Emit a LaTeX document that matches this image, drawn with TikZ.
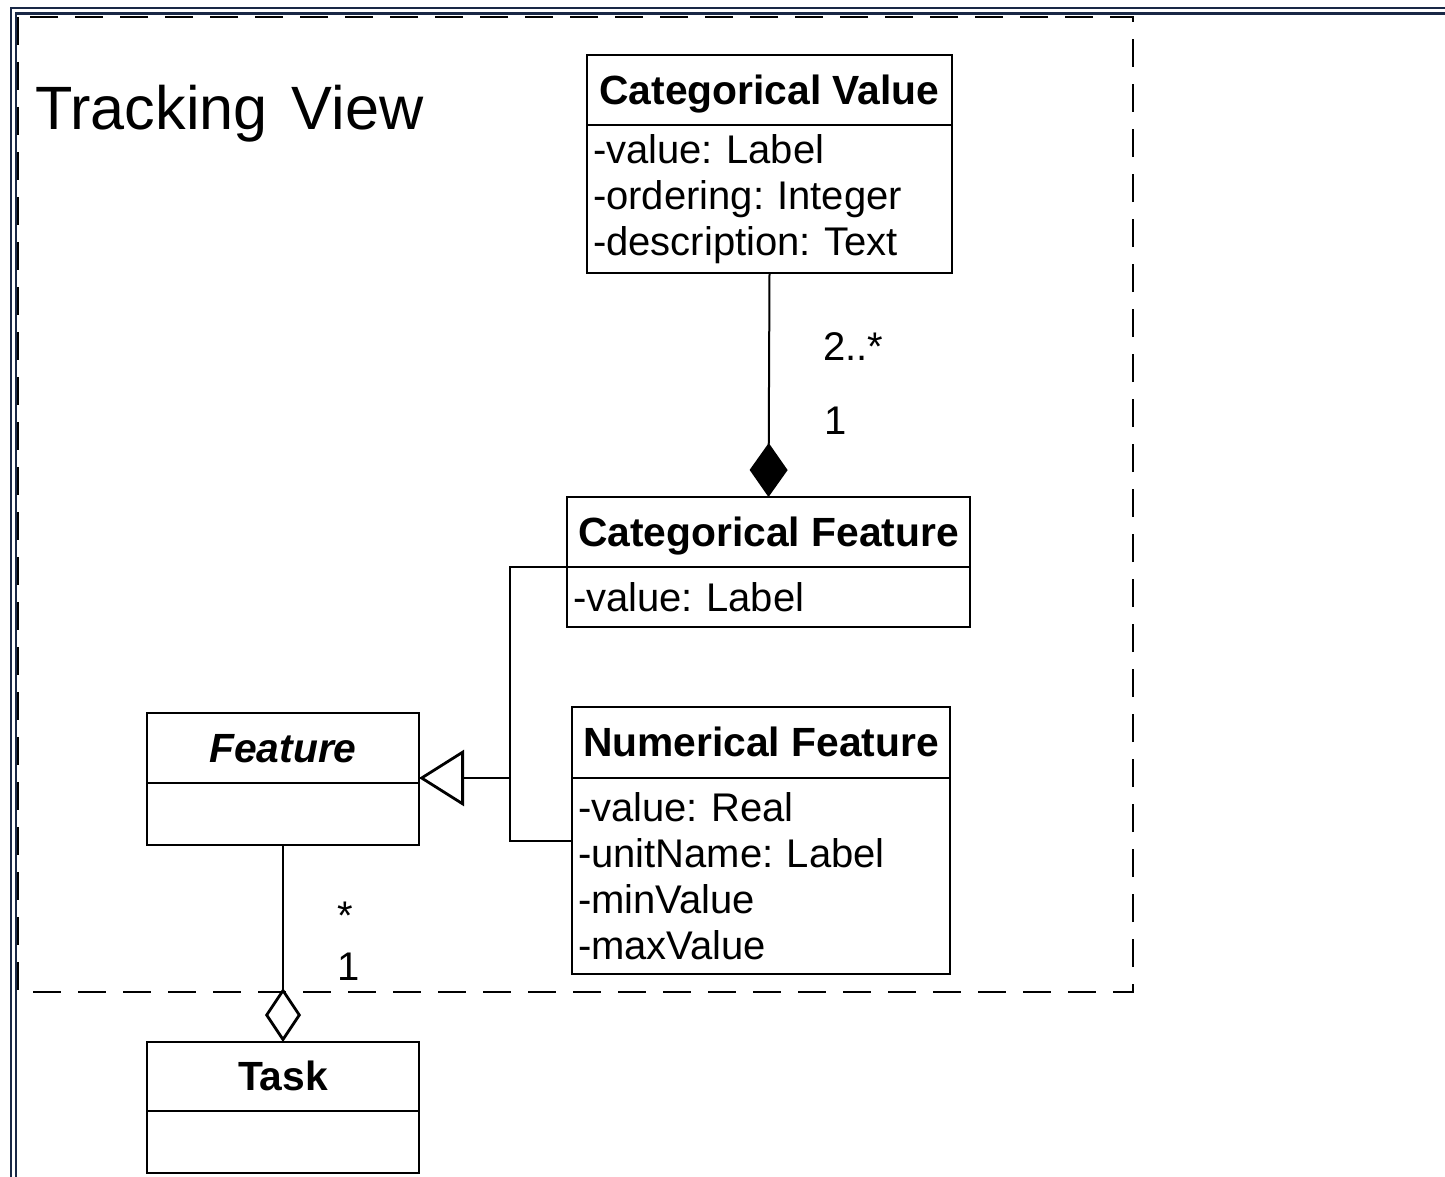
\documentclass[tikz,border=0pt]{standalone}
\usepackage{fontspec}
\setmainfont{Liberation Sans}
\usetikzlibrary{arrows.meta}
\definecolor{winborder}{RGB}{25,40,70}

\begin{document}
\frenchspacing
\begin{tikzpicture}[x=0.5pt, y=-0.5pt,
  font=\fontsize{20}{23}\selectfont,
  box/.style={draw, line width=1.4pt, anchor=north west, inner sep=0pt, outer sep=0pt},
  head/.style={box, font=\fontsize{20.4}{23}\selectfont\bfseries,
    text height=14.3pt, text depth=0pt},
  attr/.style={box, align=left, inner xsep=3pt, text width=#1},
  link/.style={line width=1pt},
  mult/.style={anchor=base west, inner sep=0pt}]
\useasboundingbox (0,0) rectangle (1445,1177);
% window border
\draw[line width=1.1pt, winborder] (1445,8) -- (11,8) -- (11,1177);
\draw[line width=1.1pt, winborder] (1445,13.5) -- (16,13.5) -- (16,1177);
% package frame
\draw[line width=1.4pt, dash pattern=on 14pt off 8.5pt] (18,17) rectangle (1133,992);
\node[anchor=base west, inner sep=0pt, font=\fontsize{30.6}{36}\selectfont] (title) at (35,130) {Tracking\hspace{12pt}View};
% classes
\node[head, minimum width=182.5pt, minimum height=35pt] (cv-head) at (587,55) {Categorical Value};
\node[attr=176.5pt, minimum height=74pt] (cv-attr) at (cv-head.south west)
  {-value: Label\\-ordering: Integer\\-description: Text};
\node[head, minimum width=201.5pt, minimum height=35pt] (cf-head) at (567,497) {Categorical Feature};
\node[attr=195.5pt, minimum height=30pt] (cf-attr) at (cf-head.south west) {-value: Label};
\node[head, minimum width=136pt, minimum height=35pt, font=\fontsize{20.4}{23}\selectfont\bfseries\itshape]
  (feat-head) at (147,713) {Feature};
\node[attr=130pt, minimum height=31pt] (feat-attr) at (feat-head.south west) {};
\node[head, minimum width=189pt, minimum height=35.5pt] (nf-head) at (572,707) {Numerical Feature};
\node[attr=183pt, minimum height=98pt] (nf-attr) at (nf-head.south west)
  {-value: Real\\-unitName: Label\\-minValue\\-maxValue};
\node[head, minimum width=136pt, minimum height=34.5pt] (task-head) at (147,1042) {Task};
\node[attr=130pt, minimum height=31pt] (task-attr) at (task-head.south west) {};
% composition
\draw[link, -{Diamond[length=27pt, width=19pt]}] (cv-attr.south) -- (cf-head.north);
\node[mult] (m-cv) at (823,360) {2..*};
\node[mult] (m-cf) at (824,434) {1};
% generalization
\coordinate (gen) at (510,778);
\coordinate (gen-bot) at (510,841);
\draw[link] (cf-head.south west) -| (gen) -- (gen-bot) -- (gen-bot -| nf-attr.west);
\draw[link, -{Triangle[open, length=22.5pt, width=28pt, line width=1.4pt]}] (gen) -- (gen -| feat-head.east);
% aggregation
\draw[link, -{Diamond[open, fill=white, length=27pt, width=18pt, line width=1.4pt]}] (feat-attr.south) -- (task-head.north);
\node[mult] (m-feat) at (337,929) {*};
\node[mult] (m-task) at (337,980) {1};
\end{tikzpicture}
\end{document}
